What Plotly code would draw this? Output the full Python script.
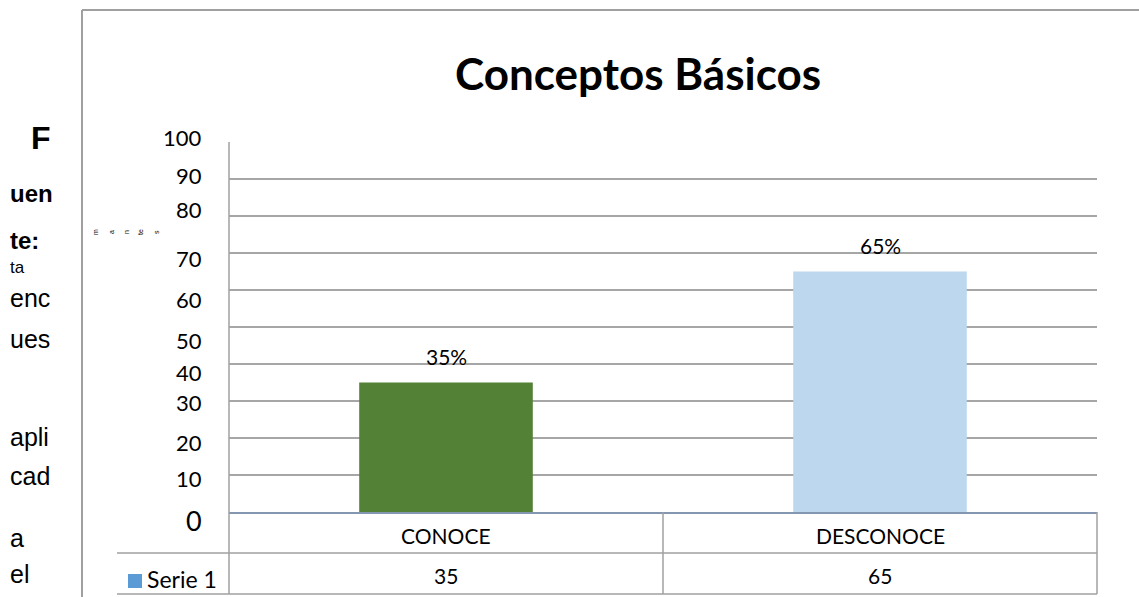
import plotly.graph_objects as go

# ---------------- data ----------------
categories = ["CONOCE", "DESCONOCE"]
values = [35, 65]
series_name = "Serie 1"
title_text = "Conceptos Básicos"
tick_values = [0, 10, 20, 30, 40, 50, 60, 70, 80, 90, 100]
tick_labels = ["0", "10", "20", "30", "40", "50", "60", "70", "80", "90", "100"]
side_words = ["F", "uen", "te:", "ta", "enc", "ues", "apli", "cad", "a", "el"]
tiny_letters = ["m", "a", "n", "te", "s"]

# ---------------- style / layout ----------------
W, H = 1139, 597
L, R, T, B = 229, 1097, 142, 512          # plot area in pixels
bar_colors = ["#538135", "#bdd7ee"]
grid_col = "#a6a6a6"
frame_col = "#a0a0a0"
FONT = "Lato"


def px(x):
    return (x - L) / (R - L)


def py(y):
    return (B - y) / (B - T)


fig = go.Figure()
fig.add_trace(go.Bar(
    x=categories, y=values, name=series_name,
    marker=dict(color=bar_colors, line=dict(width=0)),
    width=0.4, showlegend=False, hoverinfo="x+y",
))

ann = []
shapes = []

# title
ann.append(dict(text="<b>" + title_text + "</b>", x=px(638), y=py(73), xref="paper", yref="paper",
                xanchor="center", yanchor="middle", showarrow=False,
                font=dict(family=FONT, size=44, color="#000000")))

# y tick labels (misaligned as in the reference)
tick_shift = [-8, -3, -4, -1, -8, -13, -9, -5, 7, 4, 5]
for v, t, s in zip(tick_values, tick_labels, tick_shift):
    ann.append(dict(text=t, x=px(204), y=v, xref="paper", yref="y", xanchor="right",
                    yanchor="middle", yshift=s, showarrow=False,
                    font=dict(family=FONT, size=27 if v == 0 else 22, color="#000000")))

# data labels above bars
for c, v in zip(categories, values):
    ann.append(dict(text=f"{v}%", x=c, y=v, xref="x", yref="y", xanchor="center",
                    yanchor="bottom", yshift=12, showarrow=False,
                    font=dict(family=FONT, size=21, color="#000000")))

# data table: category row and value row
for c, v in zip(categories, values):
    ann.append(dict(text=c, x=c, y=py(535), xref="x", yref="paper", xanchor="center",
                    yanchor="middle", showarrow=False,
                    font=dict(family=FONT, size=21, color="#000000")))
    ann.append(dict(text=str(v), x=c, y=py(575), xref="x", yref="paper", xanchor="center",
                    yanchor="middle", showarrow=False,
                    font=dict(family=FONT, size=21, color="#000000")))
ann.append(dict(text=series_name, x=px(145), y=py(579), xref="paper", yref="paper",
                xanchor="left", yanchor="middle", showarrow=False,
                font=dict(family=FONT, size=23, color="#000000")))
shapes.append(dict(type="rect", xref="paper", yref="paper", x0=px(128), x1=px(142),
                   y0=py(588), y1=py(574), fillcolor="#5b9bd5", line=dict(width=0)))

# table lines
line_style = dict(color=frame_col, width=1.5)
for yy in (553, 594):
    shapes.append(dict(type="line", xref="paper", yref="paper", x0=px(117), x1=px(R),
                       y0=py(yy), y1=py(yy), line=line_style))
for xx in (663, R):
    shapes.append(dict(type="line", xref="paper", yref="paper", x0=px(xx), x1=px(xx),
                       y0=py(B), y1=py(594), line=line_style))
shapes.append(dict(type="line", xref="paper", yref="paper", x0=px(L), x1=px(L),
                   y0=py(T), y1=py(594), line=line_style))

# outer chart frame
shapes.append(dict(type="line", xref="paper", yref="paper", x0=px(82), x1=px(1139),
                   y0=py(10), y1=py(10), line=dict(color=frame_col, width=2)))
shapes.append(dict(type="line", xref="paper", yref="paper", x0=px(82), x1=px(82),
                   y0=py(10), y1=py(597), line=dict(color=frame_col, width=2)))

# side text fragments (Liberation Sans)
side_style = [  # (x_px, y_px, size, bold)
    (29, 138, 32, True),
    (8, 193, 24, True),
    (8, 240, 24, True),
    (8, 267, 17, False),
    (8, 298, 25, False),
    (8, 339, 25, False),
    (8, 437, 25, False),
    (8, 476, 25, False),
    (8, 538, 25, False),
    (8, 574, 25, False),
]
for wtxt, (xx, yy, sz, bold) in zip(side_words, side_style):
    ann.append(dict(text=("<b>%s</b>" % wtxt) if bold else wtxt, x=px(xx), y=py(yy),
                    xref="paper", yref="paper", xanchor="left", yanchor="middle",
                    showarrow=False,
                    font=dict(family="Liberation Sans", size=sz, color="#000000")))

# tiny rotated letters
tiny_x = [95, 111, 126, 140, 156]
for ch, xx in zip(tiny_letters, tiny_x):
    ann.append(dict(text=ch, x=px(xx), y=py(232), xref="paper", yref="paper",
                    xanchor="center", yanchor="middle", textangle=-90, showarrow=False,
                    font=dict(family="Liberation Sans", size=7, color="#000000")))

fig.update_layout(
    width=W, height=H,
    margin=dict(l=L, r=W - R, t=T, b=H - B, pad=0),
    paper_bgcolor="#ffffff", plot_bgcolor="#ffffff",
    annotations=ann, shapes=shapes, showlegend=False,
    bargap=0.6,
)
fig.update_xaxes(range=[-0.5, 1.5], showticklabels=False, showgrid=False, zeroline=False,
                 showline=True, linecolor="#8497b0", linewidth=2, ticks="", fixedrange=True)
fig.update_yaxes(range=[0, 100], tickvals=tick_values, showticklabels=False,
                 showgrid=True, gridcolor=grid_col, gridwidth=1.5, zeroline=False,
                 showline=False, ticks="", fixedrange=True)

fig.write_html("out.html", config={"displayModeBar": False},
               post_script="document.body.style.margin='0';document.body.style.overflow='hidden';")
